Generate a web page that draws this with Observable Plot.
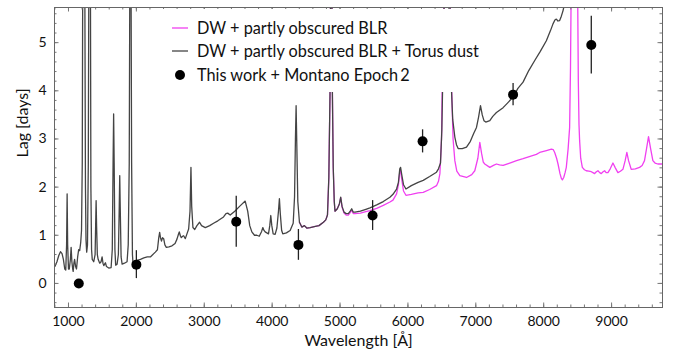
<!DOCTYPE html>
<html>
<head>
<meta charset="utf-8">
<script src="https://cdn.jsdelivr.net/npm/d3@7"></script>
<script src="https://cdn.jsdelivr.net/npm/@observablehq/plot@0.6"></script>
<style>
  html, body { margin: 0; padding: 0; background: #fff; }
  #wrap { position: relative; width: 685px; height: 362px; font-family: Lato, "DejaVu Sans", sans-serif; }
  #legend { position: absolute; left: 163px; top: 9px; }
</style>
</head>
<body>
<div id="wrap"></div>
<script>
// ---- data ----
const torusWave = [800,830,857,882,905,925,945,960,972,980,988,1000,1012,1028,1039,1050,1062,1069,1080,1090,1105,1118,1135,1150,1165,1180,1192,1203,1210,1225,1240,1250,1258,1268,1280,1292,1300,1312,1323,1330,1340,1350,1372,1392,1400,1407,1414,1425,1437,1460,1480,1495,1508,1520,1532,1544,1560,1593,1628,1645,1657,1665,1673,1684,1695,1716,1735,1748,1755,1762,1775,1790,1824,1863,1880,1895,1905,1920,1930,1942,1951,1985,2010,2060,2110,2160,2206,2279,2310,2330,2343,2355,2370,2385,2402,2420,2441,2480,2525,2570,2598,2620,2632,2650,2662,2680,2696,2721,2750,2770,2790,2804,2815,2833,2860,2892,2931,2960,3015,3080,3137,3200,3284,3320,3345,3382,3450,3520,3603,3640,3670,3701,3740,3775,3810,3845,3863,3880,3897,3946,3965,3980,3995,4015,4044,4070,4093,4107,4120,4140,4157,4210,4265,4310,4330,4343,4353,4363,4378,4402,4437,4475,4510,4560,4620,4690,4755,4790,4815,4835,4853,4870,4887,4900,4915,4926,4960,4990,5010,5030,5059,5090,5122,5150,5172,5195,5221,5300,5380,5441,5540,5637,5735,5780,5833,5860,5880,5892,5910,5935,5971,6050,6150,6225,6320,6421,6450,6480,6500,6510,6575,6642,6660,6691,6715,6740,6800,6863,6920,6970,7010,7040,7069,7095,7120,7147,7206,7250,7304,7402,7470,7549,7620,7696,7780,7868,7950,8039,8100,8137,8165,8186,8210,8235,8260,8284,8330,8400];
const torusLag = [0.35,0.45,0.58,0.66,0.62,0.5,0.3,0.28,0.8,1.86,0.8,0.3,0.3,0.5,0.75,0.45,0.3,0.25,0.42,0.5,0.35,0.3,0.55,0.7,0.68,0.85,1.1,2.5,6.5,9,6.5,2,0.9,0.65,0.8,2.5,6.5,9,6.5,2,0.7,0.5,0.45,0.6,1.2,1.72,1.2,0.6,0.5,0.42,0.45,0.55,0.42,0.37,0.4,0.43,0.35,0.32,0.33,0.7,2.5,3.52,2.5,0.7,0.38,0.4,0.6,1.6,2.24,1.6,0.55,0.4,0.42,0.45,0.8,2.5,7,7,2.5,0.6,0.4,0.45,0.48,0.5,0.53,0.55,0.55,0.65,0.7,0.95,1.06,0.95,0.88,0.95,0.93,0.8,0.75,0.76,0.78,0.83,0.92,1.02,1.07,0.98,0.95,0.98,0.99,0.93,1.05,1.13,1.5,2.41,1.6,1.16,1.12,1.2,1.27,1.2,1.16,1.2,1.25,1.3,1.38,1.45,1.46,1.42,1.5,1.6,1.71,1.5,1.2,1.07,1.0,1.0,0.98,1.08,1.16,1.1,1.07,1.03,1.2,1.41,1.2,1.03,1.02,1.15,1.5,1.76,1.45,1.1,1.03,1.05,1.1,1.25,1.8,3.0,3.69,2.9,1.7,1.27,1.17,1.2,1.15,1.16,1.18,1.2,1.27,1.32,1.42,2.2,4.0,9,4.0,2.4,1.7,1.5,1.55,1.65,1.79,1.6,1.48,1.45,1.45,1.5,1.55,1.48,1.48,1.5,1.54,1.57,1.63,1.7,1.79,1.85,1.96,2.1,2.38,2.41,2.25,2.05,1.96,2.03,2.1,2.14,2.22,2.31,2.38,2.5,3.2,4.0,9,4.0,3.4,3.04,2.88,2.8,2.8,2.83,2.95,3.12,3.24,3.45,3.69,3.5,3.38,3.35,3.38,3.47,3.55,3.65,3.75,3.87,4.05,4.18,4.42,4.63,4.82,5.04,5.25,5.39,5.47,5.49,5.45,5.46,5.55,5.66,5.95,6.5];

const blrWave = [4402,4437,4475,4510,4560,4620,4690,4755,4790,4815,4835,4853,4870,4887,4900,4915,4926,4960,4990,5010,5030,5059,5090,5122,5150,5172,5195,5221,5300,5380,5441,5540,5637,5735,5780,5833,5860,5880,5892,5910,5935,5971,6050,6150,6225,6320,6421,6450,6471,6495,6505,6575,6647,6665,6691,6720,6765,6863,6940,6985,7030,7059,7085,7110,7132,7206,7260,7304,7350,7402,7500,7600,7696,7800,7892,7941,8040,8113,8140,8162,8190,8211,8240,8260,8275,8295,8315,8333,8360,8382,8395,8410,8460,8495,8510,8520,8529,8545,8569,8600,8627,8665,8701,8725,8750,8775,8799,8825,8848,8875,8897,8920,8946,8980,9020,9055,9093,9130,9167,9200,9225,9250,9289,9350,9412,9450,9485,9515,9544,9575,9608,9640,9681,9755];
const blrLag = [1.27,1.17,1.2,1.15,1.16,1.18,1.2,1.27,1.32,1.42,2.2,4.0,9,4.0,2.4,1.7,1.5,1.55,1.65,1.78,1.58,1.46,1.42,1.42,1.47,1.52,1.45,1.45,1.46,1.49,1.51,1.56,1.62,1.69,1.73,1.86,2.05,2.32,2.34,2.15,1.92,1.83,1.85,1.88,1.89,1.95,2.03,2.12,2.28,3.0,4.0,9,3.9,3.0,2.55,2.33,2.24,2.2,2.26,2.34,2.6,2.93,2.7,2.52,2.48,2.41,2.45,2.48,2.46,2.45,2.5,2.55,2.59,2.64,2.68,2.72,2.76,2.79,2.78,2.72,2.6,2.48,2.28,2.18,2.15,2.2,2.3,2.41,2.8,3.24,4.5,7,9,7,4.2,3.3,2.97,2.6,2.41,2.36,2.34,2.33,2.32,2.3,2.28,2.32,2.34,2.3,2.28,2.32,2.34,2.3,2.3,2.38,2.5,2.4,2.3,2.33,2.37,2.55,2.72,2.55,2.37,2.38,2.41,2.45,2.55,2.8,3.05,2.8,2.55,2.5,2.48,2.48];

const obsWave = [1152, 2000, 3471, 4387, 5480, 6216, 7549, 8701];
const obsLag  = [0.0, 0.39, 1.28, 0.80, 1.41, 2.95, 3.92, 4.95];
const obsErr  = [0.0, 0.29, 0.53, 0.32, 0.31, 0.24, 0.23, 0.60];

const xMajor = [1000,2000,3000,4000,5000,6000,7000,8000,9000];
const yMajor = [0,1,2,3,4,5];
const xMinor = d3.range(800, 9751, 200);
const yMinor = d3.range(-0.4, 5.71, 0.2).map(v => +v.toFixed(1));

const legendLabels = ["DW + partly obscured BLR", "DW + partly obscured BLR + Torus dust", "This work + Montano Epoch\u20092"];
const xLabel = "Wavelength [Å]";
const yLabel = "Lag [days]";

// ---- tables ----
const torus = torusWave.map((w, i) => ({w, lag: torusLag[i]}));
const blr = blrWave.map((w, i) => ({w, lag: blrLag[i]}));
const obs = obsWave.map((w, i) => ({w, lag: obsLag[i], lo: obsLag[i] - obsErr[i], hi: obsLag[i] + obsErr[i]}));

const W = 685, H = 362, mL = 54, mR = 23, mT = 7, mB = 55;
const fW = W - mL - mR, fH = H - mT - mB;
const tickCol = "#777";
const magenta = "#f040f0";
const dark = "#444";

const chart = Plot.plot({
  width: W, height: H,
  marginLeft: mL, marginRight: mR, marginTop: mT, marginBottom: mB,
  x: {domain: [794, 9750]},
  y: {domain: [-0.5, 5.73]},
  style: {fontFamily: "Lato, 'DejaVu Sans', sans-serif", fontSize: "14px", color: "#111", background: "white"},
  marks: [
    Plot.line(blr, {x: "w", y: "lag", stroke: magenta, strokeWidth: 1.3, clip: true}),
    Plot.line(torus, {x: "w", y: "lag", stroke: dark, strokeWidth: 1.3, clip: true}),
    Plot.ruleX(obs, {x: "w", y1: "lo", y2: "hi", stroke: "#222", strokeWidth: 1.3}),
    Plot.dot(obs, {x: "w", y: "lag", r: 5, fill: "#000"}),
    // inward ticks on all sides
    Plot.tickX(xMinor, {x: d => d, insetTop: fH - 2.5, stroke: tickCol}),
    Plot.tickX(xMinor, {x: d => d, insetBottom: fH - 2.5, stroke: tickCol}),
    Plot.tickX(xMajor, {x: d => d, insetTop: fH - 4.5, stroke: tickCol}),
    Plot.tickX(xMajor, {x: d => d, insetBottom: fH - 4.5, stroke: tickCol}),
    Plot.tickY(yMinor, {y: d => d, insetRight: fW - 2.5, stroke: tickCol}),
    Plot.tickY(yMinor, {y: d => d, insetLeft: fW - 2.5, stroke: tickCol}),
    Plot.tickY(yMajor, {y: d => d, insetRight: fW - 4.5, stroke: tickCol}),
    Plot.tickY(yMajor, {y: d => d, insetLeft: fW - 4.5, stroke: tickCol}),
    Plot.frame({stroke: "#666"}),
    Plot.axisX({ticks: xMajor, tickSize: 0, tickPadding: 9, tickFormat: d => String(d), label: null}),
    Plot.axisY({ticks: yMajor, tickSize: 0, tickPadding: 8, tickFormat: d => String(d), label: null}),
    Plot.text([xLabel], {text: d => d, frameAnchor: "bottom", dy: 38, fontSize: 16}),
    Plot.text([yLabel], {text: d => d, frameAnchor: "left", dx: -32, rotate: -90, fontSize: 16})
  ]
});

const wrap = document.getElementById("wrap");
wrap.appendChild(chart);

// legend with white background drawn over the plot area
const ns = "http://www.w3.org/2000/svg";
const lg = document.createElementNS(ns, "svg");
lg.setAttribute("id", "legend");
lg.setAttribute("width", 335);
lg.setAttribute("height", 83);
const bg = document.createElementNS(ns, "rect");
bg.setAttribute("width", 335); bg.setAttribute("height", 83); bg.setAttribute("fill", "white");
lg.appendChild(bg);
const rows = [19, 42, 66];
legendLabels.forEach((lab, i) => {
  const y = rows[i];
  if (i < 2) {
    const l = document.createElementNS(ns, "line");
    l.setAttribute("x1", 9); l.setAttribute("x2", 25); l.setAttribute("y1", y); l.setAttribute("y2", y);
    l.setAttribute("stroke", i === 0 ? magenta : dark); l.setAttribute("stroke-width", 1.3);
    lg.appendChild(l);
  } else {
    const c = document.createElementNS(ns, "circle");
    c.setAttribute("cx", 17); c.setAttribute("cy", y); c.setAttribute("r", 5); c.setAttribute("fill", "#000");
    lg.appendChild(c);
  }
  const t = document.createElementNS(ns, "text");
  t.setAttribute("x", 34); t.setAttribute("y", y);
  t.setAttribute("dy", "0.35em");
  t.setAttribute("font-size", "16.3px");
  t.setAttribute("font-family", "Lato, 'DejaVu Sans', sans-serif");
  t.setAttribute("fill", "#111");
  t.textContent = lab;
  lg.appendChild(t);
});
wrap.appendChild(lg);
</script>
</body>
</html>
